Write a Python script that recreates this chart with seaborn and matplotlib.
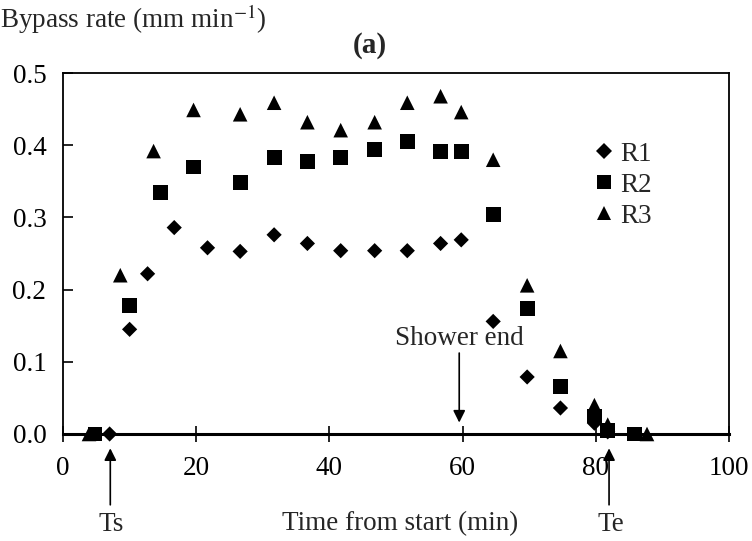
import numpy as np
import pandas as pd
import matplotlib
matplotlib.use("Agg")
import matplotlib.pyplot as plt
import seaborn as sns

# ---- data ----
r1_x = [7, 10, 12.7, 16.7, 21.7, 26.6, 31.7, 36.7, 41.7, 46.8, 51.7, 56.7, 59.8, 64.6, 69.7, 74.7, 79.8, 81.8]
r1_y = [0.0, 0.145, 0.222, 0.286, 0.258, 0.253, 0.276, 0.264, 0.254, 0.254, 0.254, 0.264, 0.269, 0.156, 0.079, 0.036, 0.015, 0.003]
r2_x = [4.8, 10, 14.7, 19.6, 26.6, 31.7, 36.7, 41.7, 46.8, 51.7, 56.7, 59.8, 64.6, 69.7, 74.7, 79.8, 81.8, 85.8]
r2_y = [0.0, 0.178, 0.334, 0.370, 0.349, 0.383, 0.377, 0.383, 0.394, 0.405, 0.391, 0.392, 0.304, 0.174, 0.066, 0.025, 0.005, 0.0]
r3_x = [3.9, 8.6, 13.6, 19.6, 26.6, 31.7, 36.7, 41.7, 46.8, 51.7, 56.7, 59.8, 64.6, 69.7, 74.7, 79.8, 81.8, 87.7]
r3_y = [0.0, 0.220, 0.392, 0.449, 0.443, 0.459, 0.432, 0.421, 0.432, 0.459, 0.468, 0.446, 0.380, 0.206, 0.115, 0.040, 0.013, 0.0]
series = ["R1", "R2", "R3"]
x_ticks = [0, 20, 40, 60, 80, 100]
y_ticks = [0.0, 0.1, 0.2, 0.3, 0.4, 0.5]

df = pd.concat([
    pd.DataFrame({"x": r1_x, "y": r1_y, "Run": "R1"}),
    pd.DataFrame({"x": r2_x, "y": r2_y, "Run": "R2"}),
    pd.DataFrame({"x": r3_x, "y": r3_y, "Run": "R3"}),
], ignore_index=True)

sns.set_theme(style="white")
plt.rcParams["font.family"] = ["Liberation Serif", "DejaVu Serif"]
plt.rcParams["mathtext.fontset"] = "stix"

FS = 19.5

fig = plt.figure(figsize=(7.52, 5.41), dpi=100)
ax = fig.add_axes([0.0838, 0.1978, 0.8855, 0.667])

sns.scatterplot(data=df, x="x", y="y", hue="Run", style="Run", size="Run",
                palette={"R1": "black", "R2": "black", "R3": "black"},
                markers={"R1": "D", "R2": "s", "R3": "^"},
                sizes={"R1": 60, "R2": 115, "R3": 110},
                linewidth=0, ax=ax, clip_on=False, zorder=5)

ax.set_xlim(0, 100)
ax.set_ylim(0, 0.5)
ax.set_xticks(x_ticks)
ax.set_yticks(y_ticks)
ax.set_xticklabels([str(t) for t in x_ticks], fontsize=FS)
ax.set_yticklabels([f"{t:.1f}" for t in y_ticks], fontsize=FS)
ax.tick_params(axis="x", direction="inout", length=12, width=1.2, pad=10, colors="black", bottom=True)
ax.tick_params(axis="y", direction="in", length=7, width=1.2, pad=12, colors="black", left=True)
for s in ax.spines.values():
    s.set_color("black")
    s.set_linewidth(1.3)
ax.spines["bottom"].set_linewidth(2.2)
ax.set_xlabel("")
ax.set_ylabel("")

# legend
leg = ax.get_legend()
handles = leg.legend_handles
labels = [t.get_text() for t in leg.get_texts()]
ax.legend(handles, labels, frameon=False, loc="upper left", bbox_to_anchor=(0.772, 0.84),
          fontsize=FS, handletextpad=0.0, labelspacing=0.22, borderaxespad=0, handlelength=1.2)

# texts
fig.text(0.0, 0.965, r"Bypass rate (mm min$^{-1}$)", fontsize=FS, ha="left", va="center")
fig.text(0.492, 0.915, "(a)", fontsize=21, fontweight="bold", ha="center", va="center")
fig.text(0.532, 0.033, "Time from start (min)", fontsize=FS, ha="center", va="center")

# Shower end
ax.annotate("", xy=(59.5, 0.012), xytext=(59.5, 0.116),
            arrowprops=dict(arrowstyle="-|>,head_length=0.6,head_width=0.3", color="black", lw=1.2))
ax.text(59.5, 0.133, "Shower end", fontsize=FS, ha="center", va="center")

# Ts / Te arrows below axis
for xv, lab in [(7.1, "Ts"), (82.0, "Te")]:
    ax.annotate("", xy=(xv, -0.016), xytext=(xv, -0.102),
                arrowprops=dict(arrowstyle="-|>,head_length=0.6,head_width=0.3", color="black", lw=1.2),
                annotation_clip=False)
    ax.text(xv + 0.2, -0.125, lab, fontsize=FS, ha="center", va="center")

fig.savefig("out.png", dpi=100)
